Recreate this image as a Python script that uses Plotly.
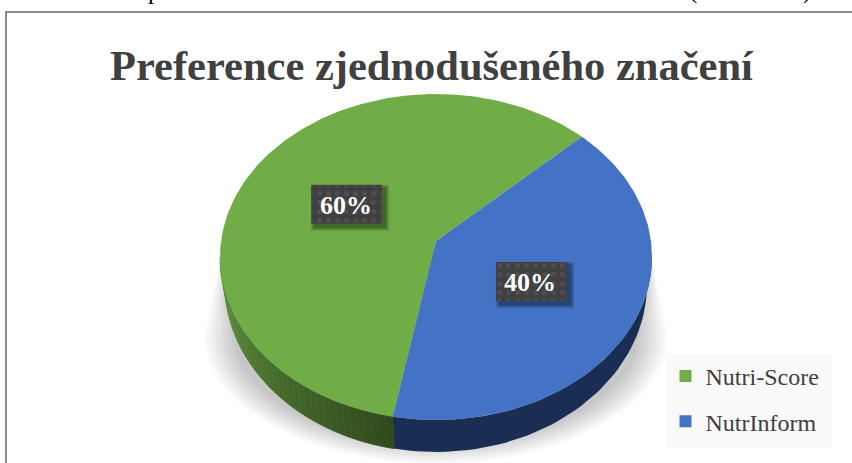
import math
import plotly.graph_objects as go

title_text = "Preference zjednodušeného značení"
categories = ["Nutri-Score", "NutrInform"]
shares = [60, 40]
colors = ["#70AD47", "#4472C4"]
clipped_text = [("p", 154), ("(", 693), (")", 807)]

W, H = 852, 463
FONT = "Liberation Serif"
CX, CY, RX, RY = 436, 257, 216, 163      # top face outline
APEX_Y = 241                             # perspective: apex above outline centre
BCY, BRX, BRY = 284, 211, 168            # lower rim of the side wall
START = 43.5                             # degrees, first slice runs anticlockwise


def top(t):
    r = math.radians(t)
    return CX + RX * math.cos(r), CY - RY * math.sin(r)


def rim(t):
    r = math.radians(t)
    return CX + BRX * math.cos(r), BCY - BRY * math.sin(r)


def edge_angle(theta):
    """Outline parameter hit by a ray leaving the raised apex at the true angle theta."""
    k = (CY - APEX_Y) / RY
    u, v = math.cos(math.radians(theta)), math.sin(math.radians(theta))
    s = -v * k + math.sqrt(v * v * k * k - k * k + 1)
    t = math.degrees(math.atan2(s * v + k, s * u))
    while t < theta - 90:
        t += 360
    return t


def mix(a, b, f):
    pa = [int(a[i:i + 2], 16) for i in (1, 3, 5)]
    pb = [int(b[i:i + 2], 16) for i in (1, 3, 5)]
    return "#%02x%02x%02x" % tuple(round(x + (y - x) * f) for x, y in zip(pa, pb))


def frange(a, b, step):
    n = max(1, int(abs(b - a) / step))
    return [a + (b - a) * i / n for i in range(n + 1)]


fig = go.Figure()


def poly(xs, ys, fill, **kw):
    fig.add_trace(go.Scatter(x=xs, y=ys, mode="lines", fill="toself", fillcolor=fill,
                             line=dict(width=kw.pop("lw", 0), color=kw.pop("lc", fill)),
                             hoverinfo="skip", showlegend=False, **kw))


# soft ground shadow
LAYERS = 14
for k in range(LAYERS):
    f = k / (LAYERS - 1)
    srx = 232 - 30 * f
    sry = 128 - 20 * f
    scy = 336
    ts = frange(180, 360, 3)
    xs = [CX - 214] + [CX + srx * math.cos(math.radians(t)) for t in ts] + [CX + 214]
    ys = [250] + [scy - sry * math.sin(math.radians(t)) for t in ts] + [250]
    poly(xs, ys, "rgba(0,0,0,0.017)")

# side wall: slices are cut where their share of the circle ends
green_end = edge_angle(START + 360 * shares[0] / sum(shares))
steps = frange(180, green_end, 2)
blue_ts = frange(green_end, 360, 2)
tp = [top(t) for t in blue_ts]
rp = [rim(t) for t in reversed(blue_ts)]
poly([p[0] for p in tp + rp], [p[1] for p in tp + rp], "#1a2d52")
for a, b in zip(steps[:-1], steps[1:]):
    f = (a - 180) / (green_end - 180)
    c = mix("#5f9440", "#2f481a", f)
    p1, p2, p3, p4 = top(a), top(b), rim(b), rim(a)
    poly([p1[0], p2[0], p3[0], p4[0]], [p1[1], p2[1], p3[1], p4[1]], c, lw=0.8, lc=c)

# top face
angle = START
mids = []
for share, color in zip(shares, colors):
    sweep = 360 * share / sum(shares)
    pts = [top(t) for t in frange(edge_angle(angle), edge_angle(angle + sweep), 1)]
    poly([CX] + [p[0] for p in pts] + [CX], [APEX_Y] + [p[1] for p in pts] + [APEX_Y], color)
    mids.append(angle + sweep / 2)
    angle += sweep

# data labels in dark boxes
label_pos = [0.471, 0.503]
label_drop = [0, 1.5]
BW, BH = 71, 39
annotations = []
for share, mid, lr, drop in zip(shares, mids, label_pos, label_drop):
    r = math.radians(mid)
    lx = CX + RX * lr * math.cos(r)
    ly = APEX_Y - RY * lr * math.sin(r) + drop
    x0, x1, y0, y1 = lx - BW / 2, lx + BW / 2, ly - BH / 2, ly + BH / 2
    for s in range(6, 0, -1):
        d = s * 0.7
        poly([x0 + 4 - d, x1 + 3 + d, x1 + 3 + d, x0 + 4 - d, x0 + 4 - d],
             [y0 + 4 - d, y0 + 4 - d, y1 + 3 + d, y1 + 3 + d, y0 + 4 - d], "rgba(0,0,0,0.08)")
    fig.add_trace(go.Scatter(x=[x0, x1, x1, x0, x0], y=[y0, y0, y1, y1, y0], mode="lines",
                             fill="toself", line=dict(width=0), hoverinfo="skip", showlegend=False,
                             fillcolor="#404040",
                             fillpattern=dict(shape=".", bgcolor="#404040", fgcolor="#5c5c5c",
                                              size=9, solidity=0.25)))
    annotations.append(dict(x=lx - 1, y=ly + 1, xref="x", yref="y", text=f"<b>{share}%</b>", showarrow=False,
                            font=dict(family=FONT, size=26, color="#ffffff")))

# legend entries
for name, color in zip(categories, colors):
    fig.add_trace(go.Scatter(x=[None], y=[None], mode="markers", name=name, legendgroup=name,
                             marker=dict(symbol="square", size=12, color=color)))

# clipped line of the surrounding document
for ch, x in clipped_text:
    annotations.append(dict(x=x, y=6, xref="x", yref="y", yanchor="bottom", text=ch, showarrow=False,
                            font=dict(family=FONT, size=25, color="#000000")))

annotations.append(dict(x=432, y=65, xref="x", yref="y", text=f"<b>{title_text}</b>", showarrow=False,
                        font=dict(family=FONT, size=42.5, color="#404040")))

shapes = [
    dict(type="line", x0=6, x1=6, y0=12, y1=H, line=dict(color="#8a8a8a", width=2), layer="above"),
    dict(type="line", x0=5, x1=W, y0=12, y1=12, line=dict(color="#8a8a8a", width=2), layer="above"),
    dict(type="rect", x0=666, x1=832, y0=354, y1=447, fillcolor="#f9f9f9", line=dict(width=0), layer="above"),
]

fig.update_layout(
    width=W, height=H, autosize=False,
    margin=dict(l=0, r=0, t=0, b=0),
    paper_bgcolor="#ffffff", plot_bgcolor="#ffffff",
    xaxis=dict(range=[0, W], visible=False, fixedrange=True),
    yaxis=dict(range=[H, 0], visible=False, fixedrange=True),
    annotations=annotations, shapes=shapes,
    legend=dict(x=665.5 / W, y=1 - 354 / H, xanchor="left", yanchor="top", bgcolor="rgba(0,0,0,0)",
                font=dict(family=FONT, size=24, color="#404040"), tracegroupgap=11,
                itemwidth=30, traceorder="grouped"),
)
fig.write_html("out.html", config=dict(displayModeBar=False),
               post_script="document.body.style.margin='0';document.documentElement.style.overflow='hidden';")
